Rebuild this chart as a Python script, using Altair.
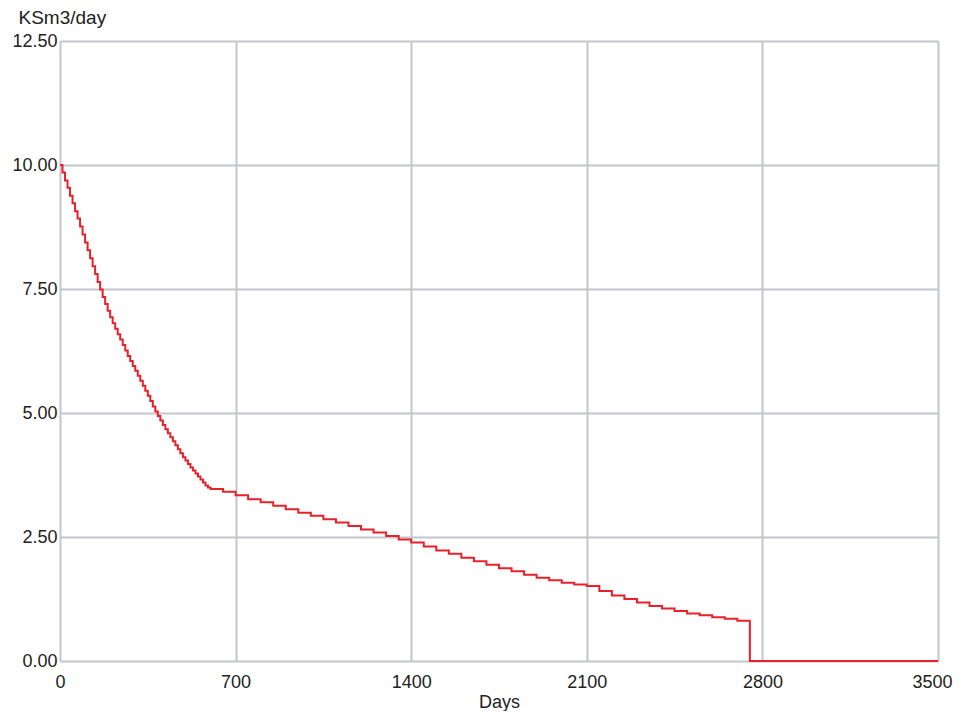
import altair as alt
import pandas as pd

days = [0, 10, 20, 30, 40, 50, 60, 70, 80, 90, 100, 110, 120, 130, 140, 150, 160, 170,
        180, 190, 200, 210, 220, 230, 240, 250, 260, 270, 280, 290, 300, 310, 320, 330,
        340, 350, 360, 370, 380, 390, 400, 410, 420, 430, 440, 450, 460, 470, 480, 490,
        500, 510, 520, 530, 540, 550, 560, 570, 580, 590, 600,
        650, 700, 750, 800, 850, 900, 950, 1000, 1050, 1100, 1150, 1200, 1250, 1300,
        1350, 1400, 1450, 1500, 1550, 1600, 1650, 1700, 1750, 1800, 1850, 1900, 1950,
        2000, 2050, 2100, 2150, 2200, 2250, 2300, 2350, 2400, 2450, 2500, 2550, 2600,
        2650, 2700, 2750, 3500]
rate = [10.00, 9.85, 9.69, 9.54, 9.38, 9.23, 9.07, 8.92, 8.76, 8.60, 8.44, 8.28, 8.12,
        7.96, 7.80, 7.64, 7.49, 7.34, 7.20, 7.06, 6.93, 6.81, 6.70, 6.59, 6.48, 6.37,
        6.26, 6.15, 6.05, 5.95, 5.85, 5.75, 5.65, 5.55, 5.45, 5.35, 5.24, 5.13, 5.03,
        4.94, 4.85, 4.76, 4.67, 4.59, 4.51, 4.43, 4.35, 4.27, 4.19, 4.11, 4.04, 3.97,
        3.90, 3.84, 3.78, 3.72, 3.66, 3.60, 3.54, 3.50, 3.47,
        3.41, 3.34, 3.26, 3.20, 3.13, 3.06, 2.99, 2.93, 2.86, 2.79, 2.72, 2.65, 2.59,
        2.52, 2.45, 2.39, 2.31, 2.23, 2.16, 2.08, 2.01, 1.94, 1.87, 1.81, 1.74, 1.68,
        1.63, 1.58, 1.54, 1.51, 1.41, 1.32, 1.25, 1.18, 1.11, 1.06, 1.01, 0.96, 0.92,
        0.88, 0.85, 0.81, 0.00, 0.00]

x_ticks = [0, 700, 1400, 2100, 2800, 3500]
y_ticks = [0, 2.5, 5, 7.5, 10, 12.5]

df = pd.DataFrame({"Days": days, "Rate": rate})

FONT = "Liberation Sans"

chart = alt.Chart(df).mark_line(
    interpolate="step-after", color="#e8202a", strokeWidth=2
).encode(
    x=alt.X("Days:Q",
            scale=alt.Scale(domain=[0, 3500], nice=False, zero=False),
            axis=alt.Axis(values=x_ticks, title="Days", format="d",
                          ticks=False, domain=False, labelPadding=12,
                          labelAlign={"condition": {"test": "datum.value == 3500", "value": "right"},
                                      "value": "center"},
                          labelOffset={"condition": {"test": "datum.value == 3500", "value": 14},
                                       "value": 0},
                          labelFontSize=18, labelFont=FONT, labelColor="#222",
                          titleFont=FONT, titleFontSize=18, titleFontWeight="normal",
                          titleColor="#222", titleBaseline="alphabetic", titleY=46,
                          gridColor="#c4c6cd", gridWidth=2,
                          labelFlush=False)),
    y=alt.Y("Rate:Q",
            scale=alt.Scale(domain=[0, 12.5], nice=False),
            axis=alt.Axis(values=y_ticks, title="KSm3/day", format=".2f",
                          ticks=False, domain=False, labelPadding=3,
                          labelFontSize=18, labelFont=FONT, labelColor="#222",
                          titleFont=FONT, titleFontSize=19, titleFontWeight="normal",
                          titleColor="#222", titleAngle=0, titleAlign="left",
                          titleBaseline="alphabetic", titleX=-42, titleY=-18,
                          gridColor="#c4c6cd", gridWidth=2)),
).properties(
    width=878,
    height=620,
    autosize=alt.AutoSizeParams(type="none"),
    padding={"left": 52, "top": 33, "right": 15, "bottom": 50},
).configure_view(
    stroke="#2a2a2a", strokeWidth=2
).configure(background="white")

chart.save("out.html", embed_options={"renderer": "svg", "actions": False})
